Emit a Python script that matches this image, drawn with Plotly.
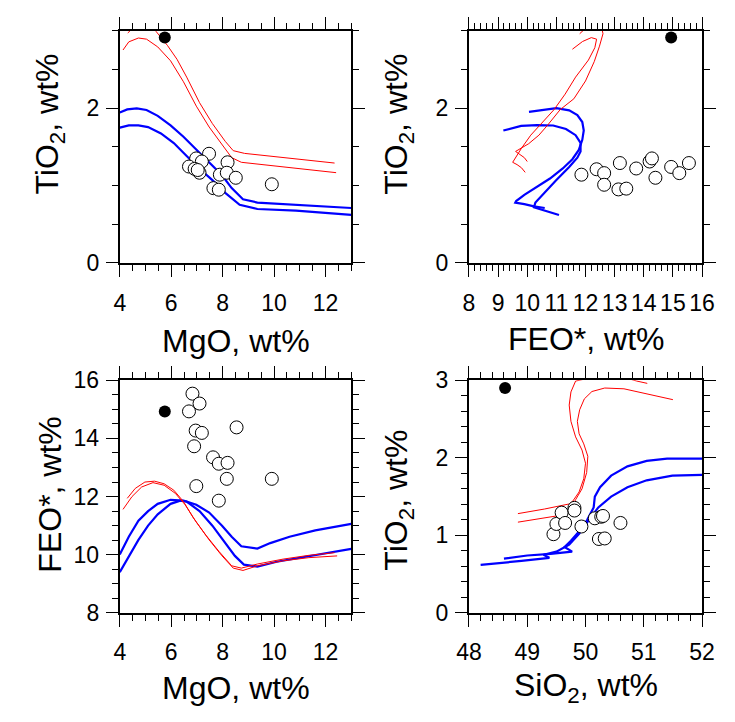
import plotly.graph_objects as go

# ---------------- data ----------------
# Panel 1: TiO2 vs MgO
p1_mgo = [6.97, 7.47, 7.19, 6.69, 6.91, 7.10, 7.03, 8.19, 7.89, 8.16, 8.51, 7.64, 7.85, 9.91]
p1_tio2 = [1.35, 1.41, 1.31, 1.245, 1.215, 1.165, 1.20, 1.30, 1.14, 1.165, 1.10, 0.966, 0.946, 1.016]
p1_star_mgo = [5.75]
p1_star_tio2 = [2.91]
p1_red1_x = [4.31, 4.6, 4.9, 5.2, 5.41, 5.85, 6.225, 6.6, 7.1, 7.6, 8.1, 8.41, 8.85, 12.35]
p1_red1_y = [2.97, 3.06, 3.09, 3.06, 2.99, 2.81, 2.63, 2.40, 2.07, 1.80, 1.57, 1.45, 1.415, 1.29]
p1_red2_x = [4.125, 4.35, 4.725, 5.04, 5.475, 5.975, 6.475, 6.975, 7.475, 7.975, 8.35, 8.725, 12.41]
p1_red2_y = [2.75, 2.855, 2.905, 2.89, 2.79, 2.61, 2.34, 2.025, 1.755, 1.527, 1.36, 1.30, 1.166]
p1_blue1_x = [4.0, 4.29, 4.66, 5.04, 5.475, 5.975, 6.475, 6.975, 7.475, 7.975, 8.35, 8.79, 9.35, 10.85, 13.0]
p1_blue1_y = [1.942, 1.983, 1.996, 1.975, 1.90, 1.776, 1.63, 1.465, 1.30, 1.133, 0.967, 0.822, 0.78, 0.751, 0.71]
p1_blue2_x = [4.0, 4.35, 4.725, 5.1, 5.6, 6.1, 6.6, 7.1, 7.6, 8.1, 8.66, 9.35, 10.85, 13.0]
p1_blue2_y = [1.747, 1.776, 1.776, 1.755, 1.672, 1.548, 1.382, 1.216, 1.07, 0.905, 0.751, 0.697, 0.676, 0.622]

# Panel 2: TiO2 vs FeO*
p2_feo = [11.86, 12.38, 12.64, 12.64, 13.18, 13.13, 13.40, 13.74, 14.20, 14.28, 14.40, 14.94, 15.22, 15.55]
p2_tio2 = [1.14, 1.21, 1.16, 1.01, 1.29, 0.95, 0.96, 1.22, 1.31, 1.35, 1.10, 1.24, 1.16, 1.29]
p2_star_feo = [14.94]
p2_star_tio2 = [2.91]
p2_red1_x = [11.80, 12.00, 12.30, 12.55, 12.60, 12.48, 12.30, 12.00, 11.60, 11.13, 10.70, 10.40, 10.05, 9.75, 9.60, 9.75, 9.90, 10.00]
p2_red1_y = [2.96, 3.03, 3.08, 3.05, 2.96, 2.80, 2.60, 2.35, 2.12, 1.98, 1.78, 1.65, 1.54, 1.47, 1.44, 1.40, 1.36, 1.31]
p2_red2_x = [11.55, 11.90, 12.20, 12.38, 12.32, 12.10, 11.66, 11.30, 10.92, 10.50, 10.12, 9.80, 9.58, 9.50, 9.65, 9.80, 9.93]
p2_red2_y = [2.76, 2.86, 2.91, 2.89, 2.78, 2.62, 2.40, 2.18, 1.98, 1.80, 1.65, 1.48, 1.36, 1.30, 1.27, 1.23, 1.17]
p2_blue1_x = [10.06, 10.56, 11.0, 11.44, 11.72, 11.89, 11.94, 11.89, 11.77, 11.55, 11.22, 10.78, 10.34, 9.90, 9.62, 9.59, 9.90, 10.23, 10.60]
p2_blue1_y = [1.95, 1.98, 2.0, 1.97, 1.91, 1.82, 1.71, 1.59, 1.46, 1.34, 1.22, 1.09, 0.99, 0.88, 0.80, 0.78, 0.76, 0.73, 0.71]
p2_blue2_x = [9.18, 9.79, 10.34, 10.89, 11.33, 11.66, 11.83, 11.83, 11.72, 11.44, 11.0, 10.56, 10.28, 10.23, 10.5, 10.8, 11.09]
p2_blue2_y = [1.71, 1.77, 1.78, 1.775, 1.73, 1.65, 1.55, 1.44, 1.36, 1.24, 1.07, 0.90, 0.78, 0.72, 0.69, 0.66, 0.62]

# Panel 3: FeO* vs MgO
p3_mgo = [6.825, 7.10, 6.69, 6.95, 7.19, 6.89, 8.54, 7.625, 7.85, 8.19, 8.16, 9.91, 6.975, 7.85]
p3_feo = [15.54, 15.20, 14.93, 14.27, 14.19, 13.73, 14.38, 13.35, 13.13, 13.16, 12.61, 12.61, 12.36, 11.86]
p3_star_mgo = [5.75]
p3_star_feo = [14.93]
p3_red1_x = [4.29, 4.6, 4.975, 5.35, 5.725, 6.1, 6.475, 6.85, 7.35, 7.85, 8.35, 8.725, 9.35, 10.35, 11.35, 12.35]
p3_red1_y = [11.94, 12.28, 12.50, 12.53, 12.44, 12.22, 11.83, 11.28, 10.67, 10.12, 9.62, 9.54, 9.68, 9.85, 9.98, 10.07]
p3_red2_x = [4.125, 4.475, 4.85, 5.29, 5.725, 6.16, 6.54, 6.975, 7.475, 7.975, 8.41, 8.79, 9.35, 10.35, 11.35, 12.45]
p3_red2_y = [11.56, 12.0, 12.33, 12.48, 12.39, 12.11, 11.72, 11.12, 10.51, 9.96, 9.54, 9.46, 9.62, 9.79, 9.90, 9.96]
p3_blue1_x = [4.0, 4.35, 4.725, 5.1, 5.475, 5.975, 6.475, 6.975, 7.475, 7.975, 8.35, 8.725, 9.35, 9.85, 10.6, 11.6, 13.0]
p3_blue1_y = [10.01, 10.62, 11.17, 11.50, 11.75, 11.89, 11.86, 11.72, 11.45, 11.0, 10.62, 10.29, 10.21, 10.40, 10.62, 10.84, 11.06]
p3_blue2_x = [4.0, 4.35, 4.725, 5.1, 5.475, 5.975, 6.35, 6.6, 7.1, 7.6, 8.1, 8.475, 8.825, 9.35, 10.1, 11.35, 13.0]
p3_blue2_y = [9.40, 9.96, 10.51, 11.0, 11.39, 11.75, 11.86, 11.83, 11.50, 11.0, 10.40, 9.96, 9.66, 9.59, 9.76, 9.96, 10.20]

# Panel 4: TiO2 vs SiO2
p4_sio2 = [49.45, 49.50, 49.59, 49.65, 49.81, 49.81, 49.93, 50.16, 50.27, 50.30, 50.23, 50.33, 50.60]
p4_tio2 = [1.015, 1.147, 1.293, 1.16, 1.355, 1.32, 1.114, 1.22, 1.24, 1.25, 0.953, 0.96, 1.16]
p4_star_sio2 = [48.62]
p4_star_tio2 = [2.90]
p4_red1_x = [51.06, 50.88, 50.6, 50.2, 49.83, 49.75, 49.72, 49.75, 49.83, 49.94, 50.0, 49.97, 49.89, 49.78, 49.72, 49.30, 48.84]
p4_red1_y = [2.96, 2.99, 3.05, 3.05, 2.99, 2.85, 2.68, 2.47, 2.27, 2.10, 1.93, 1.73, 1.56, 1.44, 1.405, 1.34, 1.28]
p4_red2_x = [51.50, 51.05, 50.66, 50.33, 50.11, 49.98, 49.90, 49.86, 49.89, 49.97, 50.04, 50.02, 49.94, 49.83, 49.78, 49.65, 49.50, 48.84]
p4_red2_y = [2.75, 2.83, 2.89, 2.90, 2.855, 2.76, 2.62, 2.47, 2.31, 2.18, 2.02, 1.81, 1.60, 1.46, 1.38, 1.29, 1.25, 1.17]
p4_blue1_x = [52.0, 51.4, 51.05, 50.72, 50.44, 50.25, 50.16, 50.14, 50.03, 49.90, 49.75, 49.64, 49.77, 49.40, 49.0, 48.6]
p4_blue1_y = [1.99, 1.99, 1.96, 1.89, 1.77, 1.62, 1.50, 1.36, 1.20, 1.06, 0.93, 0.85, 0.79, 0.76, 0.74, 0.70]
p4_blue2_x = [52.0, 51.49, 51.05, 50.72, 50.44, 50.22, 50.05, 49.89, 49.72, 49.50, 49.28, 49.38, 48.9, 48.2]
p4_blue2_y = [1.78, 1.77, 1.71, 1.62, 1.50, 1.36, 1.19, 1.02, 0.88, 0.79, 0.75, 0.71, 0.67, 0.62]

# ---------------- figure ----------------
W, H = 735, 722
FONT = "Liberation Sans, Arial, sans-serif"
RED = "#ff0000"
BLUE = "#0000ff"

panels = [
    dict(ax="", red=[(p1_red1_x, p1_red1_y), (p1_red2_x, p1_red2_y)],
         blue=[(p1_blue1_x, p1_blue1_y), (p1_blue2_x, p1_blue2_y)],
         pts=(p1_mgo, p1_tio2), star=(p1_star_mgo, p1_star_tio2)),
    dict(ax="2", red=[(p2_red1_x, p2_red1_y), (p2_red2_x, p2_red2_y)],
         blue=[(p2_blue1_x, p2_blue1_y), (p2_blue2_x, p2_blue2_y)],
         pts=(p2_feo, p2_tio2), star=(p2_star_feo, p2_star_tio2)),
    dict(ax="3", red=[(p3_red1_x, p3_red1_y), (p3_red2_x, p3_red2_y)],
         blue=[(p3_blue1_x, p3_blue1_y), (p3_blue2_x, p3_blue2_y)],
         pts=(p3_mgo, p3_feo), star=(p3_star_mgo, p3_star_feo)),
    dict(ax="4", red=[(p4_red1_x, p4_red1_y), (p4_red2_x, p4_red2_y)],
         blue=[(p4_blue1_x, p4_blue1_y), (p4_blue2_x, p4_blue2_y)],
         pts=(p4_sio2, p4_tio2), star=(p4_star_sio2, p4_star_tio2)),
]

fig = go.Figure()
for p in panels:
    xa = "x" + p["ax"]
    ya = "y" + p["ax"]
    for (xs, ys) in p["blue"]:
        fig.add_trace(go.Scatter(x=xs, y=ys, mode="lines", xaxis=xa, yaxis=ya,
                                 line=dict(color=BLUE, width=2.2), showlegend=False))
    for (xs, ys) in p["red"]:
        fig.add_trace(go.Scatter(x=xs, y=ys, mode="lines", xaxis=xa, yaxis=ya,
                                 line=dict(color=RED, width=1), showlegend=False))
    fig.add_trace(go.Scatter(x=p["pts"][0], y=p["pts"][1], mode="markers", xaxis=xa, yaxis=ya,
                             marker=dict(symbol="circle", size=13, color="white",
                                         line=dict(color="black", width=1)),
                             showlegend=False))
    fig.add_trace(go.Scatter(x=p["star"][0], y=p["star"][1], mode="markers", xaxis=xa, yaxis=ya,
                             marker=dict(symbol="circle", size=12, color="black"),
                             showlegend=False))

# plot-area pixel boxes (left, right, top, bottom)
boxes = {
    "": (110.7, 350.7, 18.3, 259.3),
    "2": (472.7, 714.3, 18.3, 259.3),
    "3": (110.7, 350.7, 381.0, 622.3),
    "4": (472.7, 714.3, 381.0, 622.3),
}
xspec = {
    "": ([4, 13], 2, 0.5, 4),
    "2": ([8, 16], 1, 0.2, 8),
    "3": ([4, 13], 2, 0.5, 4),
    "4": ([48, 52], 1, 0.2, 48),
}
yspec = {
    "": ([0, 3], 2, 0.5, 0),
    "2": ([0, 3], 2, 0.5, 0),
    "3": ([8, 16], 2, 0.5, 8),
    "4": ([0, 3], 1, 0.2, 0),
}


def axis_common(rng, dtick, mdtick, tick0, domain, anchor, standoff):
    return dict(
        range=rng, domain=domain, anchor=anchor, dtick=dtick, tick0=tick0,
        showline=True, linecolor="black", linewidth=2, mirror="allticks",
        ticks="outside", ticklen=12, tickwidth=1.3, tickcolor="black",
        minor=dict(ticks="outside", ticklen=6, tickwidth=1, tickcolor="black",
                   dtick=mdtick, tick0=tick0, showgrid=False),
        showgrid=False, zeroline=False, fixedrange=True,
        tickfont=dict(family=FONT, size=23, color="black"),
        ticklabelstandoff=standoff,
    )


layout = dict(
    width=W, height=H, margin=dict(l=0, r=0, t=0, b=0),
    paper_bgcolor="white", plot_bgcolor="white",
    font=dict(family=FONT, color="black"),
)
for k, (l, r, t, b) in boxes.items():
    xd = [l / W, r / W]
    yd = [(H - b) / H, (H - t) / H]
    rx, dx, mx, x0 = xspec[k]
    ry, dy, my, y0 = yspec[k]
    layout["xaxis" + k] = axis_common(rx, dx, mx, x0, xd, "y" + k, 6)
    layout["yaxis" + k] = axis_common(ry, dy, my, y0, yd, "x" + k, 2)

fig.update_layout(**layout)

titles = [
    ("MgO, wt%", 230.7, 340, 0),
    ("FEO*, wt%", 593.5, 338, 0),
    ("MgO, wt%", 230.7, 700, 0),
    ("SiO<sub>2</sub>, wt%", 593.5, 700, 0),
    ("TiO<sub>2</sub>, wt%", 38, 115, -90),
    ("TiO<sub>2</sub>, wt%", 400, 115, -90),
    ("FEO*, wt%", 38, 500, -90),
    ("TiO<sub>2</sub>, wt%", 400, 505, -90),
]
for txt, x, y, ang in titles:
    fig.add_annotation(text=txt, x=x / W, y=(H - y) / H, xref="paper", yref="paper",
                       showarrow=False, textangle=ang, xanchor="center", yanchor="middle",
                       font=dict(family=FONT, size=32, color="black"))

fig.write_html("out.html",
               post_script="document.body.style.margin='0';document.body.style.padding='0';")
